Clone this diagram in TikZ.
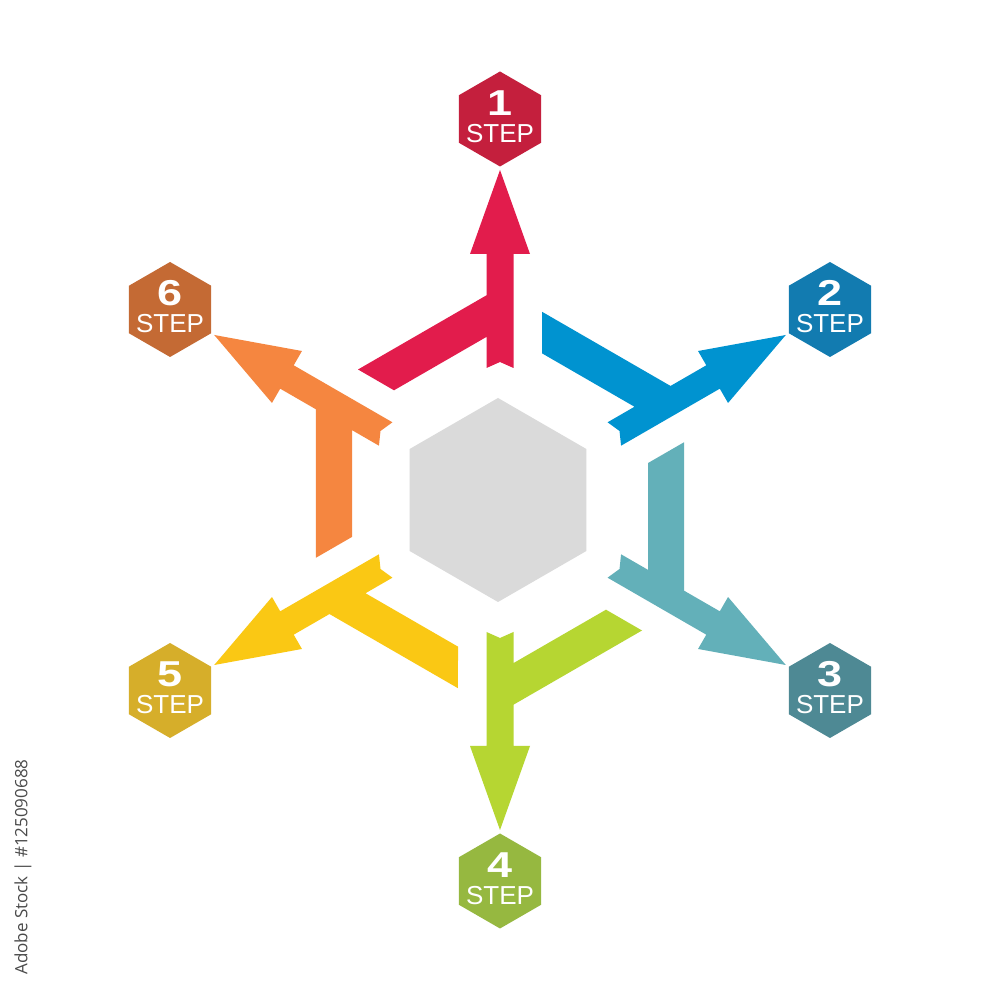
\documentclass[tikz,border=0pt]{standalone}
\usepackage{fontspec}
\setmainfont{Liberation Sans}
\newfontfamily\creditfont{Open Sans}
\usetikzlibrary{calc}
\definecolor{a1}{HTML}{E21C4C}
\definecolor{h1}{HTML}{C41F3D}
\definecolor{a2}{HTML}{0093D0}
\definecolor{h2}{HTML}{127BB0}
\definecolor{a3}{HTML}{63B0B9}
\definecolor{h3}{HTML}{4E8994}
\definecolor{a4}{HTML}{B6D632}
\definecolor{h4}{HTML}{96B840}
\definecolor{a5}{HTML}{FAC814}
\definecolor{h5}{HTML}{D6AE2A}
\definecolor{a6}{HTML}{F58640}
\definecolor{h6}{HTML}{C46A34}
\definecolor{core}{HTML}{DADADA}
\definecolor{credit}{HTML}{4A4A4A}
\newcommand\steparrow[2]{%
  \fill[#2, shift={(500,500)}, rotate=#1]
    (0,330) -- (30,246) -- (13.5,246) -- (13.5,132) -- (0,138) -- (-13.5,132)
    -- (-13.5,163.1) -- (-106,109.7) -- (-142,130.5) -- (-13.5,204.7)
    -- (-13.5,246) -- (-30,246) -- cycle;}
\newcommand\stepnode[4]{%
  \begin{scope}[shift={(500,500)}, shift={(#2:381)}]
    \coordinate (#1) at (0,0);
    \fill[#3] (90:47.5) -- (150:47.5) -- (210:47.5) -- (270:47.5) -- (330:47.5) -- (30:47.5) -- cycle;
    \node[digit] (#1d) at (0,3.5) {\scalebox{1.25}[1]{#4}};
    \node[steplabel] (#1s) at (0,-23.5) {STEP};
  \end{scope}}
\begin{document}
\begin{tikzpicture}[x=1pt,y=1pt,
  digit/.style={text=white, inner sep=0pt, anchor=base, font=\fontsize{36}{36}\selectfont\bfseries},
  steplabel/.style={text=white, inner sep=0pt, anchor=base, font=\fontsize{26}{26}\selectfont}]
\useasboundingbox (0,0) rectangle (1000,1000);
\fill[white] (0,0) rectangle (1000,1000);
% central hexagon
\fill[core, shift={(498,500)}] (90:102) -- (150:102) -- (210:102) -- (270:102) -- (330:102) -- (30:102) -- cycle;
% arrows
\steparrow{0}{a1}
\steparrow{-60}{a2}
\steparrow{-120}{a3}
\steparrow{180}{a4}
\steparrow{120}{a5}
\steparrow{60}{a6}
% step hexagons
\stepnode{n1}{90}{h1}{1}
\stepnode{n2}{30}{h2}{2}
\stepnode{n3}{-30}{h3}{3}
\stepnode{n4}{-90}{h4}{4}
\stepnode{n5}{-150}{h5}{5}
\stepnode{n6}{150}{h6}{6}
% credit line
\node[rotate=90, inner sep=0pt, text=credit, font=\creditfont\fontsize{17}{17}\selectfont] (credit) at (23,133) {Adobe Stock | \#125090688};
\end{tikzpicture}
\end{document}
